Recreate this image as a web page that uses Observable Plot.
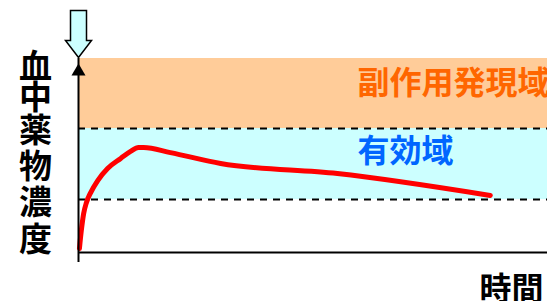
<!DOCTYPE html>
<html>
<head>
<meta charset="utf-8">
<script src="https://cdn.jsdelivr.net/npm/d3@7"></script>
<script src="https://cdn.jsdelivr.net/npm/@observablehq/plot@0.6"></script>
<style>
  html, body { margin: 0; padding: 0; background: #fff; }
  #chart svg { display: block; }
</style>
</head>
<body>
<div id="chart"></div>
<script>
// Time (arbitrary units) and blood drug concentration (arbitrary units)
const times = [0.2, 0.6, 1.1, 1.7, 2.6, 4.1, 6.2, 9.0, 11.1, 12.8, 13.9, 19.6, 30.3, 55.2, 87.8];
const concentrations = [2.1, 11.3, 20.1, 25.8, 30.9, 37.1, 43.3, 48.5, 52.1, 54.1, 54.1, 51.5, 45.9, 40.7, 29.4];

// Therapeutic bands
const bandNames = ["有効域", "副作用発現域"];
const bandLows = [27.3, 63.9];
const bandHighs = [63.9, 100];
const bandFills = ["#CCFFFF", "#FFCC99"];
const bandTextColors = ["#0066FF", "#FF6600"];
const bandLabelY = [52, 87];

const yLabelChars = ["血", "中", "薬", "物", "濃", "度"];
const yLabelPos = [95.5, 79.6, 62.6, 44.1, 25.5, 6.4];
const xLabel = "時間";
const xMax = 100, yMax = 100;

const curve = times.map((t, i) => ({t, c: concentrations[i]}));
const bands = bandNames.map((n, i) => ({name: n, lo: bandLows[i], hi: bandHighs[i], fill: bandFills[i], color: bandTextColors[i], ly: bandLabelY[i]}));
const yLabel = yLabelChars.map((ch, i) => ({ch, y: yLabelPos[i]}));

// Block down-arrow symbol (tip at origin)
const downArrow = {
  draw(ctx) {
    ctx.moveTo(-8, -47); ctx.lineTo(8, -47); ctx.lineTo(8, -17); ctx.lineTo(13, -17);
    ctx.lineTo(0, 0); ctx.lineTo(-13, -17); ctx.lineTo(-8, -17); ctx.closePath();
  }
};

const font = "'Noto Sans CJK JP', 'Noto Sans', sans-serif";

const chart = Plot.plot({
  width: 547,
  height: 301,
  marginLeft: 78,
  marginRight: 0,
  marginTop: 58,
  marginBottom: 49,
  style: {background: "#fff", fontFamily: font, overflow: "visible"},
  x: {domain: [0, xMax], axis: null},
  y: {domain: [0, yMax], axis: null},
  marks: [
    Plot.rectY(bands, {x1: 0, x2: xMax, y1: "lo", y2: "hi", fill: "fill"}),
    Plot.ruleY(bands.filter(d => d.lo > 0), {y: "lo", stroke: "#000", strokeWidth: 2, strokeDasharray: "7,6"}),
    Plot.text(bands, {x: 59.5, y: "ly", text: "name", fill: "color", fontSize: 32, fontWeight: "bold", textAnchor: "start"}),
    Plot.line(curve, {x: "t", y: "c", stroke: "#FF0000", strokeWidth: 5, curve: "monotone-x", strokeLinejoin: "round"}),
    Plot.ruleY([0], {stroke: "#000", strokeWidth: 2}),
    Plot.ruleX([0], {y1: 0, y2: yMax, stroke: "#000", strokeWidth: 2, insetTop: 10}),
    Plot.dot([{x: 0, y: yMax}], {x: "x", y: "y", symbol: "triangle", r: 5.2, fill: "#000", stroke: null, dy: 13}),
    Plot.dot([{x: 0, y: yMax}], {x: "x", y: "y", symbol: downArrow, r: 5, fill: "#CCFFFF", stroke: "#000", strokeWidth: 1.5, dy: -1}),
    Plot.text(yLabel, {x: 0, y: "y", text: "ch", dx: -43, fontSize: 33, fontWeight: "bold", fill: "#000"}),
    Plot.text([xLabel], {x: xMax, y: 0, text: d => d, dx: -68, dy: 37, textAnchor: "start", fontSize: 32, fontWeight: "bold", fill: "#000"})
  ]
});
document.getElementById("chart").appendChild(chart);
</script>
</body>
</html>
